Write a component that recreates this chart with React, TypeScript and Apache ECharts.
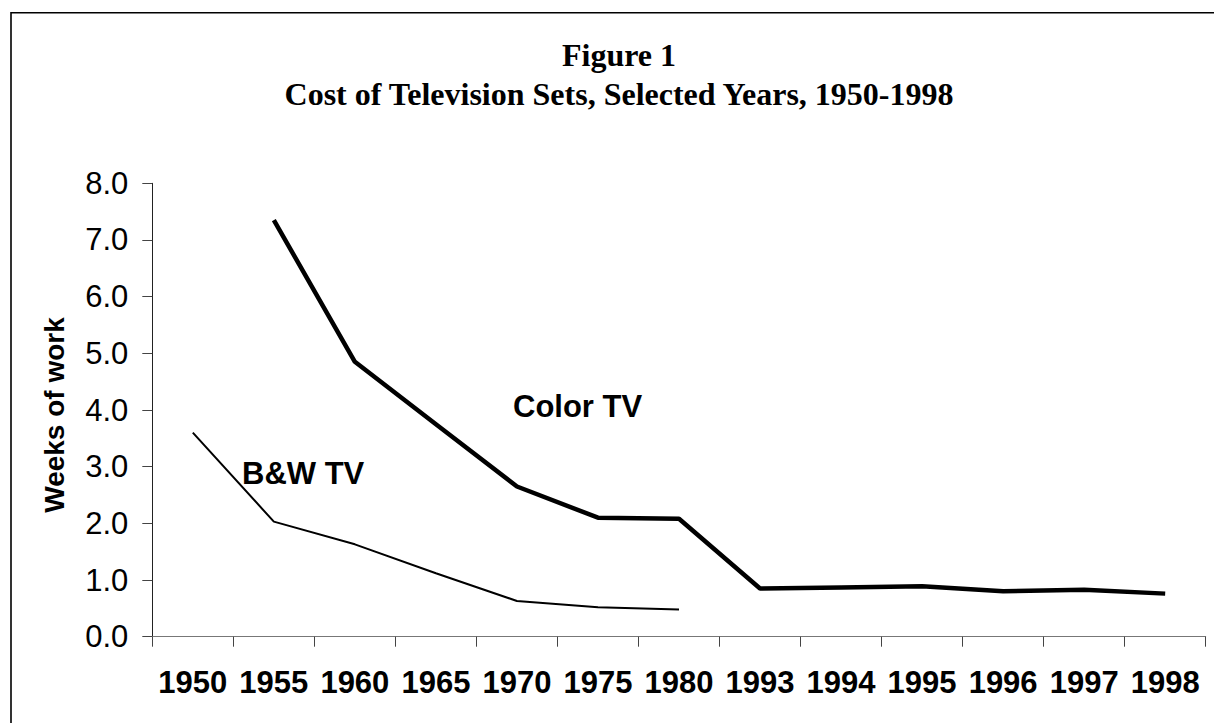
import React, { useEffect, useRef } from "react";
import * as echarts from "echarts";

const years = ["1950", "1955", "1960", "1965", "1970", "1975", "1980", "1993", "1994", "1995", "1996", "1997", "1998"];
const bwTV = [3.6, 2.03, 1.63, 1.12, 0.63, 0.52, 0.48, null, null, null, null, null, null];
const colorTV = [null, 7.35, 4.85, 3.75, 2.65, 2.1, 2.08, 0.85, 0.87, 0.89, 0.8, 0.83, 0.76];
const yTicks = { min: 0, max: 8, interval: 1 };
const titleLines = ["Figure 1", "Cost of Television Sets, Selected Years, 1950-1998"];
const yAxisName = "Weeks of work";
const seriesNames = ["B&W TV", "Color TV"];

const SANS = "'Liberation Sans', Arial, sans-serif";
const SERIF = "'Liberation Serif', 'Times New Roman', serif";

export default function App() {
  const ref = useRef<HTMLDivElement>(null);
  useEffect(() => {
    document.body.style.margin = "0";
    const chart = echarts.init(ref.current!, undefined, { renderer: "svg" });
    chart.setOption({
      animation: false,
      backgroundColor: "#ffffff",
      grid: { left: 152.3, right: 8.3, top: 183.3, bottom: 86.3, containLabel: false },
      xAxis: {
        type: "category",
        data: years,
        boundaryGap: true,
        axisLine: { lineStyle: { color: "#777", width: 1 } },
        axisTick: { show: true, length: 10, lineStyle: { color: "#444" } },
        axisLabel: {
          interval: 0,
          margin: 30,
          fontFamily: SANS,
          fontWeight: "bold",
          fontSize: 31,
          lineHeight: 32,
          color: "#000",
        },
        splitLine: { show: false },
      },
      yAxis: {
        type: "value",
        min: yTicks.min,
        max: yTicks.max,
        interval: yTicks.interval,
        axisLine: { show: true, lineStyle: { color: "#222", width: 1 } },
        axisTick: { show: true, length: 10, lineStyle: { color: "#444" } },
        axisLabel: {
          margin: 24,
          fontFamily: SANS,
          fontSize: 31,
          color: "#000",
          formatter: (v: number) => v.toFixed(1),
        },
        splitLine: { show: false },
      },
      series: [
        {
          name: seriesNames[0],
          type: "line",
          data: bwTV,
          symbol: "none",
          lineStyle: { color: "#000", width: 2 },
          connectNulls: false,
        },
        {
          name: seriesNames[1],
          type: "line",
          data: colorTV,
          symbol: "none",
          lineStyle: { color: "#000", width: 4.5 },
          connectNulls: false,
        },
      ],
      graphic: [
        {
          type: "rect",
          shape: { x: 11, y: 12.7, width: 1260, height: 760 },
          style: { fill: "none", stroke: "#000", lineWidth: 1.6 },
          silent: true,
        },
        {
          type: "text",
          x: 619,
          y: 55,
          style: {
            text: titleLines[0],
            font: `bold 32px ${SERIF}`,
            fill: "#000",
            align: "center",
            verticalAlign: "middle",
          },
        },
        {
          type: "text",
          x: 619,
          y: 94,
          style: {
            text: titleLines[1],
            font: `bold 32px ${SERIF}`,
            fill: "#000",
            align: "center",
            verticalAlign: "middle",
          },
        },
        {
          type: "text",
          x: 54,
          y: 415,
          rotation: Math.PI / 2,
          style: {
            text: yAxisName,
            font: `bold 28px ${SANS}`,
            fill: "#000",
            align: "center",
            verticalAlign: "middle",
          },
        },
        {
          type: "text",
          x: 513,
          y: 406,
          style: {
            text: seriesNames[1],
            font: `bold 31px ${SANS}`,
            fill: "#000",
            align: "left",
            verticalAlign: "middle",
          },
        },
        {
          type: "text",
          x: 242,
          y: 473,
          style: {
            text: seriesNames[0],
            font: `bold 31px ${SANS}`,
            fill: "#000",
            align: "left",
            verticalAlign: "middle",
          },
        },
      ],
    });
    return () => chart.dispose();
  }, []);
  return (
    <div
      ref={ref}
      style={{ position: "fixed", left: 0, top: 0, width: 1214, height: 723, background: "#fff" }}
    />
  );
}
